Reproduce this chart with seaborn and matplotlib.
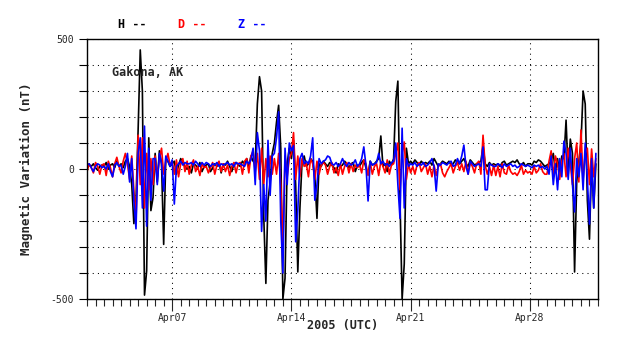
import pandas as pd
import seaborn as sns
import matplotlib.pyplot as plt
import matplotlib.dates as mdates
from matplotlib.ticker import FuncFormatter

# 3-hourly samples, one row per day (Apr 2 .. May 1, 2005), nT
h_vals = [
    5, 15, 10, 20, 5, -5, 10, 15,            # Apr 02
    10, 25, 0, 15, 20, 5, 30, 10,            # Apr 03
    20, 5, 30, 40, 10, -60, -210, -120,      # Apr 04
    150, 458, 300, -485, -392, 120, -160, -110,  # Apr 05
    60, -50, 70, 20, -290, 40, 30, 10,       # Apr 06
    20, 30, -20, 15, 40, 25, 10, 0,          # Apr 07
    10, -15, 20, 15, 5, 25, -10, 10,         # Apr 08
    15, 20, -10, 5, 20, 10, 25, -15,         # Apr 09
    20, 15, 30, 10, -10, 20, 25, 15,         # Apr 10
    10, 30, 20, 40, 10, 50, 30, 20,          # Apr 11
    250, 355, 300, -180, -440, -120, -50, 60,    # Apr 12
    100, 180, 245, 80, -500, -420, 20, 80,   # Apr 13
    40, 110, -60, -396, -150, 30, 50, 10,    # Apr 14
    20, 40, 30, -30, -190, 20, 10, 30,       # Apr 15
    20, 10, 25, 15, 5, -15, 20, 10,          # Apr 16
    15, 30, 20, 5, 20, 25, -10, 15,          # Apr 17
    10, 25, 35, 5, -20, 30, 15, 20,          # Apr 18
    30, 40, 127, 10, 20, -10, 30, 15,        # Apr 19
    40, 260, 338, -120, -500, -365, 80, 20,  # Apr 20
    30, 20, 35, 25, 15, 30, 20, 25,          # Apr 21
    20, 30, 15, 40, 25, 10, 20, 30,          # Apr 22
    25, 20, 30, 15, 20, 35, 25, 20,          # Apr 23
    30, 40, 20, 10, 35, 25, 15, 20,          # Apr 24
    25, 30, 90, 20, 10, 25, 15, 20,          # Apr 25
    15, 20, 10, 25, 30, 15, 20, 25,          # Apr 26
    30, 25, 35, 20, 15, 25, 10, 20,          # Apr 27
    20, 15, 30, 25, 35, 30, 20, 10,          # Apr 28
    15, 20, 30, 60, -10, 40, -20, 50,        # Apr 29
    40, 188, -20, 115, 60, -396, -50, 30,    # Apr 30
    100, 300, 250, -120, -270, 30, -150, 20, # May 01
]
d_vals = [
    -10, 20, 5, -15, 25, 10, -20, 15,
    20, -25, 30, 5, -30, 20, 45, 10,
    -15, 30, 60, 20, -40, 50, -80, -200,
    130, -60, 120, -150, 60, -80, 40, -60,
    50, -30, 40, 80, -20, 30, 60, 15,
    30, -20, 35, -30, 20, 40, -10, 30,
    -20, 15, 35, -10, 10, -25, 20, 5,
    10, -15, 5, 25, -20, 15, 30, -10,
    20, -10, 15, -25, 10, 25, -15, 20,
    25, -20, 30, 40, -15, 50, 70, -10,
    60, -40, 80, -60, 40, -30, 50, -20,
    40, -20, 60, -60, -290, 50, -30, 40,
    60, 140, -40, 50, -30, 40, 10, 20,
    -30, 40, 20, -40, 30, -20, 15, 25,
    15, -20, 10, 25, -15, 5, -25, 20,
    -20, 10, 25, -15, 20, -10, 15, 5,
    15, -15, 35, 20, -25, 25, -20, 10,
    20, -25, 30, 10, -15, 35, -20, 15,
    20, 60, 100, -80, 60, 104, -40, 20,
    -15, 10, -20, 15, 25, -10, 5, 20,
    -20, 10, -30, 15, -25, 10, 20, -15,
    -30, -10, 5, 20, -15, 10, 25, -5,
    20, -10, 30, -20, 25, 10, -15, 20,
    30, -20, 130, 15, -20, 10, -25, 15,
    -25, 10, -30, 20, -15, -20, 15, -10,
    -20, -15, -25, -10, 15, -20, -5, -15,
    -10, -20, 10, -15, -5, 20, -10, -20,
    -20, 30, 70, -30, 50, 20, -40, 30,
    60, -30, 80, 20, -60, 40, 100, -50,
    150, -40, 60, 80, -60, 77, -30, 40,
]
z_vals = [
    15, 20, 5, -10, 10, 20, 15, 5,
    10, 0, 20, -10, -30, 15, 25, 10,
    15, -20, 10, 60, -50, 40, -120, -230,
    60, 120, -150, 165, -220, 80, -120, 40,
    40, -60, 60, 20, -85, 50, 30, 10,
    35, -135, 10, 20, 30, 15, 25, 20,
    20, 25, 15, 30, 20, 10, 25, 15,
    25, 20, 10, 20, 15, 25, 10, 20,
    15, 20, 25, 15, 20, 10, 25, 20,
    20, 15, 10, 30, 20, 35, 80, -60,
    140, 70, -240, -60, -200, 110, -100, 50,
    60, 120, 220, -200, -400, 80, -60, 100,
    70, 90, -280, -160, 40, 60, 20, 30,
    20, 50, 120, -120, -60, 40, 20, 30,
    35, 50, 45, 20, 15, 25, 10, 20,
    40, 20, 10, 25, 15, 20, 35, 10,
    20, 40, 85, 15, -123, 30, 15, 20,
    25, 60, 20, 30, 15, 20, 10, 25,
    30, 100, -60, -190, 157, -150, 40, 10,
    20, 15, 25, 10, 20, 15, 25, 10,
    15, 25, 40, 10, -85, 20, 15, 25,
    20, 15, 25, 30, 10, 15, 40, 20,
    50, 92, 10, -20, 30, 20, 10, 15,
    20, 10, 85, -80, -80, 20, 15, 10,
    10, 20, 15, 5, 20, 10, 15, 20,
    10, 15, 5, 10, 20, 15, 10, 15,
    10, 5, 15, 10, 15, 5, 10, 0,
    10, -20, 50, -60, 20, -80, 40, -30,
    107, 60, -40, 80, -60, -165, 40, -30,
    60, -80, 100, -40, -212, 40, -150, 60,
]

components = ["H", "D", "Z"]
colors = {"H": "black", "D": "red", "Z": "blue"}

times = pd.date_range("2005-04-02", periods=len(h_vals), freq="3h")
df = pd.DataFrame({"time": times, "H": h_vals, "D": d_vals, "Z": z_vals})
long_df = df.melt(id_vars="time", var_name="comp", value_name="nT")

sns.set_style("ticks")
plt.rcParams["font.family"] = ["DejaVu Sans Mono"]

fig = plt.figure(figsize=(6.38, 3.59), dpi=100)
ax = fig.add_axes([0.1364, 0.1671, 0.8009, 0.7243])

sns.lineplot(data=long_df, x="time", y="nT", hue="comp", hue_order=components,
             palette=colors, linewidth=1.2, estimator=None, legend=False, ax=ax)

ax.set_xlim(pd.Timestamp("2005-04-02"), pd.Timestamp("2005-05-02"))
ax.set_ylim(-500, 500)

# y axis: tick every 100, labels only at -500 / 0 / 500
ax.set_yticks(range(-500, 501, 100))
ax.yaxis.set_major_formatter(FuncFormatter(lambda v, p: f"{int(v)}" if v in (-500, 0, 500) else ""))
ax.tick_params(axis="y", length=5.8, width=0.8, pad=3.5, labelsize=7, color="black")

# x axis: labelled weekly, minor ticks every 12 h
ax.xaxis.set_major_locator(mdates.DayLocator(bymonthday=[7, 14, 21, 28]))
ax.xaxis.set_major_formatter(mdates.DateFormatter("%b%d"))
ax.xaxis.set_minor_locator(mdates.HourLocator(byhour=[0, 12]))
ax.tick_params(axis="x", which="major", length=8.9, width=0.8, pad=1, labelsize=7)
ax.tick_params(axis="x", which="minor", length=5.3, width=0.8)

ax.grid(True, which="major", color="black", linestyle=(0, (1, 4)), linewidth=0.75)

for s in ax.spines.values():
    s.set_linewidth(1.0)
    s.set_color("black")

ax.set_xlabel("2005 (UTC)", fontsize=8.5, fontweight="bold")
ax.xaxis.set_label_coords(0.5, -0.075)
ax.set_ylabel("Magnetic Variation (nT)", fontsize=9, fontweight="bold")
ax.yaxis.set_label_coords(-0.105, 0.5)

ax.text(0.049, 0.873, "Gakona, AK", transform=ax.transAxes, fontsize=8.5,
        fontweight="bold", ha="left", va="center")

for i, comp in enumerate(components):
    fig.text((118 + 60 * i) / 638, 1 - 24 / 359, f"{comp} --", color=colors[comp],
             fontsize=8.5, fontweight="bold", ha="left", va="center")

plt.savefig("out.png", dpi=100)
plt.close()
